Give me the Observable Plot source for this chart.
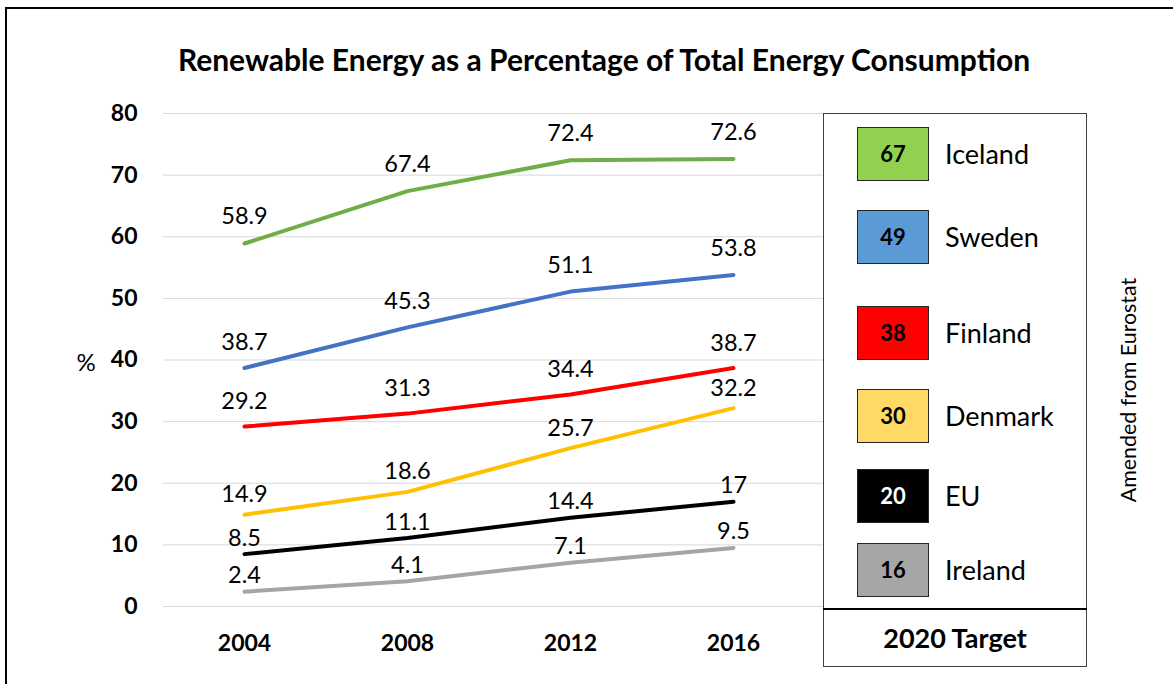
<!DOCTYPE html>
<html>
<head>
<meta charset="utf-8">
<script src="https://cdn.jsdelivr.net/npm/d3@7"></script>
<script src="https://cdn.jsdelivr.net/npm/@observablehq/plot@0.6"></script>
<style>
  html, body { margin: 0; padding: 0; background: #fff; }
  #root { position: relative; width: 1173px; height: 684px; overflow: hidden; background: #fff; font-family: Lato, "Open Sans", sans-serif; color: #000; }
  .abs { position: absolute; white-space: nowrap; }
</style>
</head>
<body>
<div id="root"></div>
<script>
// ---- data ----
const years = ["2004", "2008", "2012", "2016"];
const countries = ["Iceland", "Sweden", "Finland", "Denmark", "EU", "Ireland"];
const iceland = [58.9, 67.4, 72.4, 72.6];
const sweden  = [38.7, 45.3, 51.1, 53.8];
const finland = [29.2, 31.3, 34.4, 38.7];
const denmark = [14.9, 18.6, 25.7, 32.2];
const eu      = [8.5, 11.1, 14.4, 17];
const ireland = [2.4, 4.1, 7.1, 9.5];
const targets2020 = [67, 49, 38, 30, 20, 16];
const yTicks = [0, 10, 20, 30, 40, 50, 60, 70, 80];
const title = "Renewable Energy as a Percentage of Total Energy Consumption";
const yLabel = "%";
const legendFooter = "2020 Target";
const sourceNote = "Amended from Eurostat";

// ---- styles ----
const lineColors   = ["#70AD47", "#4472C4", "#FF0000", "#FFC000", "#000000", "#A5A5A5"];
const swatchColors = ["#92D050", "#5B9BD5", "#FF0000", "#FFD966", "#000000", "#A6A6A6"];
const swatchText   = ["#000", "#000", "#000", "#000", "#fff", "#000"];
const labelDy      = [-27, -26, -25, -20, -16, -16];
const legendRowY   = [154, 236.5, 333, 415.5, 495.5, 569.5];

const seriesValues = [iceland, sweden, finland, denmark, eu, ireland];
const rows = countries.flatMap((c, ci) => years.map((yr, i) => ({country: c, year: yr, value: seriesValues[ci][i]})));

const root = document.getElementById("root");

// outer frame
const frame = document.createElement("div");
frame.className = "abs";
Object.assign(frame.style, {left: "5px", top: "7px", width: "1300px", height: "800px", borderLeft: "2.5px solid #000", borderTop: "2.5px solid #000"});
root.appendChild(frame);

function placeText(txt, cx, cy, opts = {}) {
  const fs = opts.size || 22;
  const H = 40;
  const d = document.createElement("div");
  d.className = "abs";
  d.textContent = txt;
  Object.assign(d.style, {
    fontSize: fs + "px", fontWeight: opts.weight || "normal", color: opts.color || "#000",
    lineHeight: H + "px", height: H + "px", top: (cy - H / 2) + "px"
  });
  if (opts.anchor === "start") { d.style.left = cx + "px"; }
  else { d.style.left = (cx - 500) + "px"; d.style.width = "1000px"; d.style.textAlign = "center"; }
  root.appendChild(d);
  return d;
}

// title
placeText(title, 604, 59, {size: 30, weight: "bold"});

// plot
const chart = Plot.plot({
  width: 1173,
  height: 684,
  marginLeft: 163,
  marginRight: 350,
  marginTop: 113,
  marginBottom: 78,
  style: {fontFamily: "Lato, 'Open Sans', sans-serif", fontSize: "23px", fontWeight: "bold", color: "#000", background: "transparent", overflow: "visible"},
  x: {type: "point", domain: years, range: [243, 733], padding: 0, tickSize: 0, tickPadding: 28, label: null},
  y: {domain: [0, 80], ticks: yTicks, tickSize: 0, tickPadding: 26, label: null},
  color: {domain: countries, range: lineColors},
  marks: [
    Plot.ruleY(yTicks, {stroke: "#D9D9D9", strokeWidth: 1}),
    Plot.line(rows, {x: "year", y: "value", z: "country", stroke: "country", strokeWidth: 4, strokeLinecap: "round", strokeLinejoin: "round"}),
    ...countries.map((c, ci) => Plot.text(rows.filter(d => d.country === c), {
      x: "year", y: "value", text: d => String(d.value), dy: labelDy[ci],
      fill: "#000", fontWeight: "normal", fontSize: 23.5
    }))
  ]
});
chart.style.position = "absolute";
chart.style.left = "0px";
chart.style.top = "0px";
root.appendChild(chart);

// y label
placeText(yLabel, 86, 362, {size: 24});

// legend box
const box = document.createElement("div");
box.className = "abs";
Object.assign(box.style, {left: "823px", top: "113px", width: "262px", height: "552px", border: "1.5px solid #404040", background: "#fff"});
root.appendChild(box);
const divider = document.createElement("div");
divider.className = "abs";
Object.assign(divider.style, {left: "823px", top: "608px", width: "264px", height: "0px", borderTop: "2px solid #000"});
root.appendChild(divider);

countries.forEach((c, i) => {
  const cy = legendRowY[i];
  const sw = document.createElement("div");
  sw.className = "abs";
  Object.assign(sw.style, {left: "857px", top: (cy - 27) + "px", width: "70px", height: "52px", background: swatchColors[i], border: "1.2px solid #262626"});
  root.appendChild(sw);
  placeText(String(targets2020[i]), 893, cy, {size: 22, weight: "bold", color: swatchText[i]});
  placeText(c, 945, cy, {size: 27, anchor: "start"});
});

placeText(legendFooter, 955, 638, {size: 27, weight: "bold"});

// source note (rotated)
const note = placeText(sourceNote, 1128, 390, {size: 21.4});
note.style.transform = "rotate(-90deg)";
note.style.transformOrigin = "50% 50%";
</script>
</body>
</html>
